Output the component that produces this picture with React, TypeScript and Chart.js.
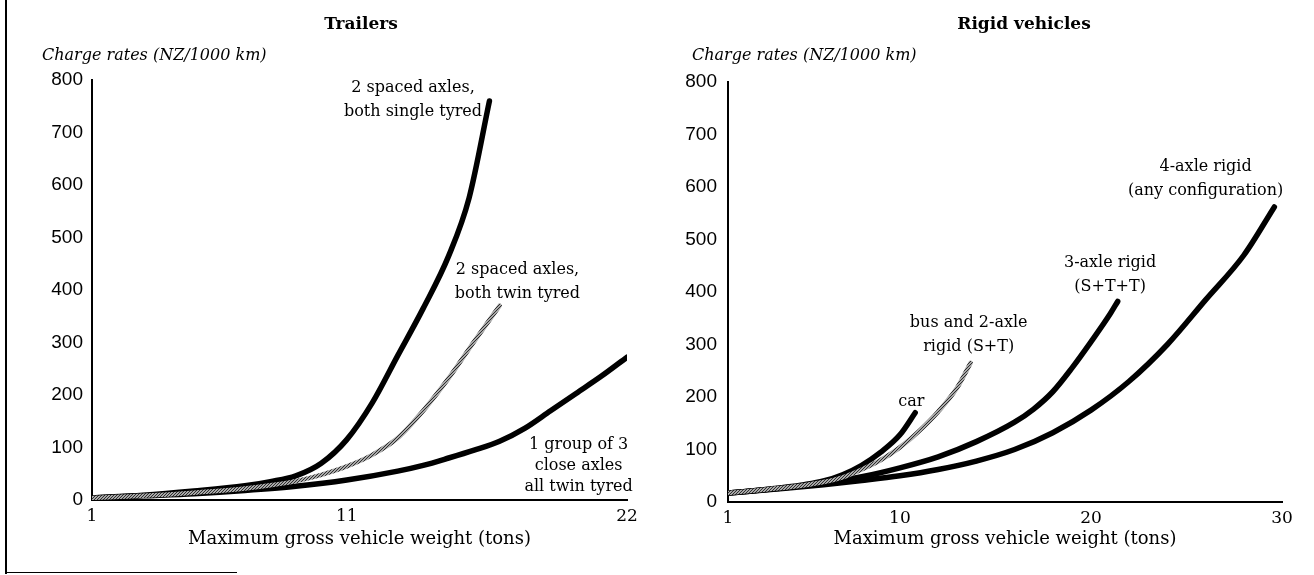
import React, { useEffect, useRef } from "react";
import { Chart, registerables } from "chart.js";

Chart.register(...registerables);

// ---------- data ----------
const yTickValues = [0, 100, 200, 300, 400, 500, 600, 700, 800];

const trailerXTicks = [1, 11, 22];
const trailerSingleX = [1, 3, 5, 7, 8, 9, 10, 11, 12, 13, 14, 15, 15.8, 16.6];
const trailerSingleY = [4, 9, 17, 27, 35, 46, 70, 115, 185, 275, 365, 465, 575, 760];
const trailerTwinX = [1, 3, 5, 7, 8, 9, 10, 11, 12, 13, 14, 15, 16, 17];
const trailerTwinY = [4, 8, 14, 22, 28, 36, 48, 64, 86, 118, 170, 232, 302, 370];
const trailerGroupX = [1, 3, 5, 7, 9, 11, 13, 14, 15, 16, 17, 18, 19, 20, 21, 22];
const trailerGroupY = [4, 8, 12, 18, 26, 38, 55, 66, 80, 95, 112, 137, 170, 203, 236, 272];

const rigidXTicks = [1, 10, 20, 30];
const carX = [1, 3, 4, 5, 6, 7, 8, 9, 10, 10.8];
const carY = [17, 24, 28, 33, 40, 52, 70, 95, 128, 170];
const busX = [1, 3, 5, 6, 7, 8, 9, 10, 11, 12, 13, 13.7];
const busY = [17, 24, 32, 38, 47, 62, 80, 104, 135, 172, 218, 265];
const axle3X = [1, 4, 6, 8, 10, 12, 14, 16, 17, 18, 19, 20, 21, 21.4];
const axle3Y = [17, 27, 36, 48, 65, 86, 115, 152, 177, 210, 255, 305, 358, 382];
const axle4X = [1, 4, 6, 8, 10, 12, 14, 16, 18, 20, 22, 24, 26, 28, 29.6];
const axle4Y = [17, 26, 33, 41, 50, 62, 78, 100, 132, 175, 230, 300, 385, 470, 562];

const xAxisTitle = "Maximum gross vehicle weight (tons)";
const yCaption = "Charge rates (NZ/1000 km)";

type Note = { lines: string[]; x: number; y: number; lh: number };

const trailerNotes: Note[] = [
  { lines: ["2 spaced axles,", "both single tyred"], x: 13.6, y: 785, lh: 24 },
  { lines: ["2 spaced axles,", "both twin tyred"], x: 17.7, y: 438, lh: 24 },
  { lines: ["1 group of 3", "close axles", "all twin tyred"], x: 20.1, y: 105, lh: 21 },
];
const rigidNotes: Note[] = [
  { lines: ["4-axle rigid", "(any configuration)"], x: 26.0, y: 638, lh: 24 },
  { lines: ["3-axle rigid", "(S+T+T)"], x: 21.0, y: 455, lh: 24 },
  { lines: ["bus and 2-axle", "rigid (S+T)"], x: 13.6, y: 341, lh: 24 },
  { lines: ["car"], x: 10.6, y: 190, lh: 22 },
];

const SERIF = '"DejaVu Serif", serif';
const SANS = '"Liberation Sans", Arial, sans-serif';

function toXY(xs: number[], ys: number[]) {
  return xs.map((x, i) => ({ x, y: ys[i] }));
}

function makeGrayPattern(): CanvasPattern | string {
  const c = document.createElement("canvas");
  c.width = 3;
  c.height = 3;
  const g = c.getContext("2d");
  if (!g) return "#777";
  g.fillStyle = "#a8a8a8";
  g.fillRect(0, 0, 3, 3);
  g.strokeStyle = "#2e2e2e";
  g.lineWidth = 1;
  g.beginPath();
  g.moveTo(0, 3);
  g.lineTo(3, 0);
  g.stroke();
  const p = g.createPattern(c, "repeat");
  return p || "#777";
}

type PanelCfg = {
  title: string;
  titleX: number;
  captionX: number;
  xMax: number;
  xTicks: number[];
  notes: Note[];
  yWidth: number;
  padTop: number;
  padRight: number;
  xHeight: number;
  yPad: number;
  series: { xs: number[]; ys: number[]; gray: boolean }[];
};

function makeTextPlugin(cfg: PanelCfg) {
  return {
    id: "panelTexts",
    afterDraw(chart: any) {
      const ctx = chart.ctx as CanvasRenderingContext2D;
      const xs = chart.scales.x;
      const ys = chart.scales.y;
      ctx.save();
      ctx.fillStyle = "#000";
      ctx.textBaseline = "middle";
      ctx.textAlign = "center";
      ctx.font = `bold 17px ${SERIF}`;
      ctx.fillText(cfg.title, cfg.titleX, 25);
      ctx.textAlign = "left";
      ctx.font = `italic 16px ${SERIF}`;
      ctx.fillText(yCaption, cfg.captionX, 56);
      ctx.textAlign = "center";
      ctx.font = `16px ${SERIF}`;
      for (const n of cfg.notes) {
        const px = xs.getPixelForValue(n.x);
        const py = ys.getPixelForValue(n.y);
        n.lines.forEach((l, i) => ctx.fillText(l, px, py + i * n.lh));
      }
      ctx.restore();
    },
  };
}

function Panel({ cfg, left }: { cfg: PanelCfg; left: number }) {
  const ref = useRef<HTMLCanvasElement | null>(null);
  useEffect(() => {
    if (!ref.current) return;
    const gray = makeGrayPattern();
    const chart = new Chart(ref.current, {
      type: "line",
      data: {
        datasets: cfg.series.map((s) => ({
          data: toXY(s.xs, s.ys),
          borderColor: s.gray ? (gray as any) : "#000",
          borderWidth: s.gray ? 4.5 : 5.5,
          pointRadius: 0,
          fill: false,
          tension: 0.4,
          cubicInterpolationMode: "monotone" as const,
          borderCapStyle: "round" as const,
          borderJoinStyle: "round" as const,
          order: s.gray ? 0 : 1,
        })),
      },
      options: {
        responsive: false,
        animation: false,
        events: [],
        layout: { padding: { top: cfg.padTop, right: cfg.padRight, left: 0, bottom: 0 } },
        plugins: { legend: { display: false }, title: { display: false }, tooltip: { enabled: false } },
        scales: {
          x: {
            type: "linear",
            min: 1,
            max: cfg.xMax,
            afterBuildTicks: (s: any) => {
              s.ticks = cfg.xTicks.map((v) => ({ value: v }));
            },
            afterFit: (s: any) => {
              s.height = cfg.xHeight;
            },
            grid: { display: false, drawTicks: false },
            border: { display: true, color: "#000", width: 2 },
            ticks: {
              color: "#000",
              font: { family: SERIF, size: 17 },
              padding: 6,
              maxRotation: 0,
              autoSkip: false,
            },
            title: {
              display: true,
              text: xAxisTitle,
              color: "#000",
              font: { family: SERIF, size: 18 },
              padding: { top: 0, bottom: 25 },
            },
          },
          y: {
            min: 0,
            max: 800,
            afterBuildTicks: (s: any) => {
              s.ticks = yTickValues.map((v) => ({ value: v }));
            },
            afterFit: (s: any) => {
              s.width = cfg.yWidth;
            },
            grid: { display: false, drawTicks: false },
            border: { display: true, color: "#000", width: 2 },
            ticks: {
              color: "#000",
              font: { family: SANS, size: 19 },
              padding: cfg.yPad,
            },
          },
        },
      },
      plugins: [makeTextPlugin(cfg)],
    });
    return () => chart.destroy();
  }, [cfg]);
  return (
    <canvas
      ref={ref}
      width={657}
      height={575}
      style={{ position: "absolute", left, top: 0, width: 657, height: 575 }}
    />
  );
}

const trailerCfg: PanelCfg = {
  title: "Trailers",
  titleX: 361,
  captionX: 42,
  xMax: 22,
  xTicks: trailerXTicks,
  notes: trailerNotes,
  yWidth: 92,
  padTop: 80,
  padRight: 30,
  xHeight: 75,
  yPad: 9,
  series: [
    { xs: trailerSingleX, ys: trailerSingleY, gray: false },
    { xs: trailerTwinX, ys: trailerTwinY, gray: true },
    { xs: trailerGroupX, ys: trailerGroupY, gray: false },
  ],
};

const rigidCfg: PanelCfg = {
  title: "Rigid vehicles",
  titleX: 1024 - 657,
  captionX: 692 - 657,
  xMax: 30,
  xTicks: rigidXTicks,
  notes: rigidNotes,
  yWidth: 71,
  padTop: 82,
  padRight: 32,
  xHeight: 73,
  yPad: 11,
  series: [
    { xs: carX, ys: carY, gray: false },
    { xs: busX, ys: busY, gray: true },
    { xs: axle3X, ys: axle3Y, gray: false },
    { xs: axle4X, ys: axle4Y, gray: false },
  ],
};

export default function App() {
  return (
    <div
      style={{
        position: "fixed",
        left: 0,
        top: 0,
        width: 1314,
        height: 575,
        background: "#fff",
        overflow: "hidden",
      }}
    >
      <Panel cfg={trailerCfg} left={0} />
      <Panel cfg={rigidCfg} left={657} />
      <div style={{ position: "absolute", left: 5, top: 0, width: 2, height: 574, background: "#000" }} />
      <div style={{ position: "absolute", left: 5, top: 572, width: 232, height: 1, background: "#000" }} />
    </div>
  );
}
